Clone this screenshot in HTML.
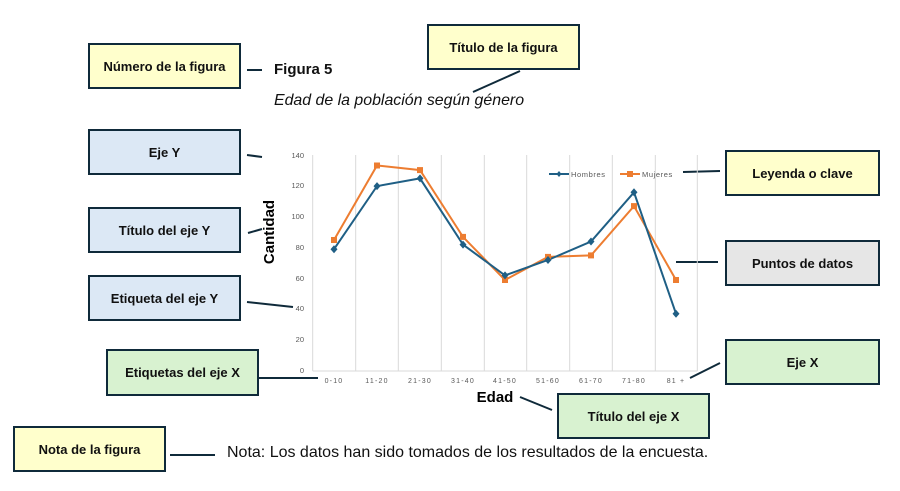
<!DOCTYPE html>
<html><head><meta charset="utf-8"><style>
body{margin:0;width:900px;height:491px;background:#fff;position:relative;overflow:hidden;font-family:"Liberation Sans",sans-serif}
.b{position:absolute;box-sizing:border-box;border:2px solid #0f2a3a;display:flex;align-items:center;justify-content:center;font-weight:bold;font-size:13px;color:#111}
.y{background:#ffffcc}.bl{background:#dce8f5}.g{background:#d8f2d0}.gr{background:#e6e6e6}
.t{position:absolute;white-space:nowrap;color:#111}
</style></head><body>
<div class="b y" style="left:88px;top:43px;width:153px;height:46px">Número de la figura</div>
<div class="b y" style="left:427px;top:24px;width:153px;height:46px">Título de la figura</div>
<div class="b bl" style="left:88px;top:129px;width:153px;height:46px">Eje Y</div>
<div class="b bl" style="left:88px;top:207px;width:153px;height:46px">Título del eje Y</div>
<div class="b bl" style="left:88px;top:275px;width:153px;height:46px">Etiqueta del eje Y</div>
<div class="b g" style="left:106px;top:349px;width:153px;height:47px">Etiquetas del eje X</div>
<div class="b y" style="left:13px;top:426px;width:153px;height:46px">Nota de la figura</div>
<div class="b y" style="left:725px;top:150px;width:155px;height:46px">Leyenda o clave</div>
<div class="b gr" style="left:725px;top:240px;width:155px;height:46px">Puntos de datos</div>
<div class="b g" style="left:725px;top:339px;width:155px;height:46px">Eje X</div>
<div class="b g" style="left:557px;top:393px;width:153px;height:46px">Título del eje X</div>
<div class="t" style="left:274px;top:61px;font-size:15px;font-weight:bold">Figura 5</div>
<div class="t" style="left:274px;top:92px;font-size:15.9px;font-style:italic">Edad de la población según género</div>
<div class="t" style="left:227px;top:444px;font-size:16px">Nota: Los datos han sido tomados de los resultados de la encuesta.</div>
<svg width="900" height="491" style="position:absolute;left:0;top:0" font-family="Liberation Sans, sans-serif">
<g stroke="#0f2a3a" stroke-width="2">
<line x1="247" y1="70" x2="262" y2="70"/><line x1="473" y1="92" x2="520" y2="71"/>
<line x1="247" y1="155" x2="262" y2="157"/><line x1="248" y1="233" x2="262" y2="229"/>
<line x1="247" y1="302" x2="293" y2="307"/><line x1="258" y1="378" x2="318" y2="378"/>
<line x1="170" y1="455" x2="215" y2="455"/><line x1="683" y1="172" x2="720" y2="171"/>
<line x1="676" y1="262" x2="718" y2="262"/><line x1="690" y1="378" x2="720" y2="363"/>
<line x1="520" y1="397" x2="552" y2="410"/>
</g>
<g stroke="#d9d9d9" stroke-width="1">
<line x1="312.7" y1="155" x2="312.7" y2="371"/><line x1="355.7" y1="155" x2="355.7" y2="371"/>
<line x1="398.3" y1="155" x2="398.3" y2="371"/><line x1="441.3" y1="155" x2="441.3" y2="371"/>
<line x1="484.3" y1="155" x2="484.3" y2="371"/><line x1="526.7" y1="155" x2="526.7" y2="371"/>
<line x1="569.7" y1="155" x2="569.7" y2="371"/><line x1="612.3" y1="155" x2="612.3" y2="371"/>
<line x1="655.3" y1="155" x2="655.3" y2="371"/><line x1="697.3" y1="155" x2="697.3" y2="371"/>
<line x1="312.7" y1="371" x2="697.3" y2="371"/>
</g>
<g font-size="7.5" fill="#595959" text-anchor="end">
<text x="304" y="373">0</text><text x="304" y="342">20</text><text x="304" y="311">40</text><text x="304" y="281">60</text>
<text x="304" y="250">80</text><text x="304" y="219">100</text><text x="304" y="188">120</text><text x="304" y="158">140</text>
</g>
<g font-size="7" fill="#595959" text-anchor="middle" letter-spacing="1.2">
<text x="334" y="383">0-10</text><text x="377" y="383">11-20</text><text x="420" y="383">21-30</text><text x="463" y="383">31-40</text>
<text x="505" y="383">41-50</text><text x="548" y="383">51-60</text><text x="591" y="383">61-70</text><text x="634" y="383">71-80</text><text x="676" y="383">81 +</text>
</g>
<text x="495" y="402" font-size="15" font-weight="bold" text-anchor="middle">Edad</text>
<text transform="translate(274,232) rotate(-90)" font-size="15" font-weight="bold" text-anchor="middle">Cantidad</text>
<polyline fill="none" stroke="#ed7d31" stroke-width="2" points="334,240 377,165.5 420,170.1 463,236.9 505,280 548,256.9 591,255.4 634,206.1 676,280"/>
<polyline fill="none" stroke="#1f5f85" stroke-width="2" points="334,249.2 377,186.1 420,178.4 463,244.6 505,275.4 548,260 591,241.5 634,192.3 676,313.7"/>
<g fill="#ed7d31">
<rect x="331" y="237" width="6" height="6"/><rect x="374" y="162.5" width="6" height="6"/><rect x="417" y="167.1" width="6" height="6"/>
<rect x="460" y="233.9" width="6" height="6"/><rect x="502" y="277" width="6" height="6"/><rect x="545" y="253.9" width="6" height="6"/>
<rect x="588" y="252.4" width="6" height="6"/><rect x="631" y="203.1" width="6" height="6"/><rect x="673" y="277" width="6" height="6"/>
</g>
<g fill="#1f5f85">
<path d="M334 245.2l3.5 4-3.5 4-3.5-4z"/><path d="M377 182.1l3.5 4-3.5 4-3.5-4z"/><path d="M420 174.4l3.5 4-3.5 4-3.5-4z"/>
<path d="M463 240.6l3.5 4-3.5 4-3.5-4z"/><path d="M505 271.4l3.5 4-3.5 4-3.5-4z"/><path d="M548 256l3.5 4-3.5 4-3.5-4z"/>
<path d="M591 237.5l3.5 4-3.5 4-3.5-4z"/><path d="M634 188.3l3.5 4-3.5 4-3.5-4z"/><path d="M676 309.7l3.5 4-3.5 4-3.5-4z"/>
</g>
<line x1="549" y1="174" x2="569" y2="174" stroke="#1f5f85" stroke-width="2"/><path d="M559 171l2.5 3-2.5 3-2.5-3z" fill="#1f5f85"/>
<text x="571" y="177" font-size="7.5" fill="#595959" letter-spacing="0.6">Hombres</text>
<line x1="620" y1="174" x2="640" y2="174" stroke="#ed7d31" stroke-width="2"/><rect x="627" y="171" width="6" height="6" fill="#ed7d31"/>
<text x="642" y="177" font-size="7.5" fill="#595959" letter-spacing="0.6">Mujeres</text>
</svg>
</body></html>
